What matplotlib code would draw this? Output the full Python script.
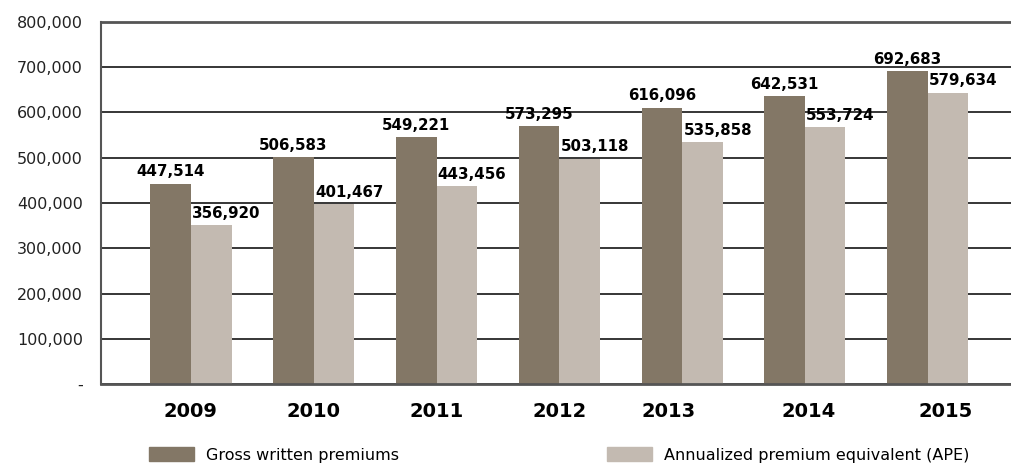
#!/usr/bin/env python3
"""Gross written premiums vs APE, 2009-2015 grouped bar chart."""
import numpy as np
import matplotlib
matplotlib.use('Agg')
import matplotlib.pyplot as plt
from matplotlib.patches import Patch
from matplotlib.transforms import ScaledTranslation

years = ['2009', '2010', '2011', '2012', '2013', '2014', '2015']
# bar heights as drawn in the picture
gross_bars = [443000, 502000, 545000, 570000, 611000, 637000, 692000]
ape_bars = [352000, 398000, 438000, 498000, 535000, 567000, 644000]
# printed value labels
gross_labels = ['447,514', '506,583', '549,221', '573,295', '616,096', '642,531', '692,683']
ape_labels = ['356,920', '401,467', '443,456', '503,118', '535,858', '553,724', '579,634']
yticks = [0, 100000, 200000, 300000, 400000, 500000, 600000, 700000, 800000]
ytick_labels = ['-', '100,000', '200,000', '300,000', '400,000', '500,000',
                '600,000', '700,000', '800,000']

GROSS_C = '#837766'
APE_C = '#c3bab1'

fig = plt.figure(figsize=(10.12, 4.68), dpi=100)
ax = fig.add_axes([101 / 1012, 84 / 468, 911 / 1012, 362 / 468])

x = np.arange(len(years))
w = 0.33
ax.bar(x - w / 2, gross_bars, w, color=GROSS_C, zorder=2)
ax.bar(x + w / 2, ape_bars, w, color=APE_C, zorder=2)

for xi, h, lab in zip(x, gross_bars, gross_labels):
    ax.annotate(lab, (xi - w / 2, h), xytext=(0, 3), textcoords='offset points',
                ha='center', va='bottom', fontsize=10.8, fontweight='bold')
for xi, h, lab in zip(x, ape_bars, ape_labels):
    ax.annotate(lab, (xi + w / 2, h), xytext=(11, 3), textcoords='offset points',
                ha='center', va='bottom', fontsize=10.8, fontweight='bold')

ax.set_xlim(-0.733, 6.686)
ax.set_ylim(0, 800000)
ax.set_yticks(yticks)
ax.set_yticklabels(ytick_labels, fontsize=11.5, color='#222222')
ax.set_xticks(x)
ax.set_xticklabels(years, fontsize=14, fontweight='bold')
ax.tick_params(axis='y', length=0, pad=13)
ax.tick_params(axis='x', length=0, pad=13)

# small horizontal nudges of the year labels, in pixels
nudge = [-1, 0, 0, 0, -14, 4, 18]
for lab, dx in zip(ax.get_xticklabels(), nudge):
    lab.set_transform(lab.get_transform() + ScaledTranslation(dx / 100, 0, fig.dpi_scale_trans))

ax.grid(axis='y', color='black', linewidth=1.1, zorder=1)
ax.set_axisbelow(True)
ax.spines['right'].set_visible(False)
for s in ['top', 'bottom', 'left']:
    ax.spines[s].set_color('#555555')
ax.spines['top'].set_linewidth(2)
ax.spines['bottom'].set_linewidth(2)
ax.spines['left'].set_linewidth(1.5)

leg_kw = dict(frameon=False, fontsize=11.5, handlelength=2.8, handleheight=0.95,
              handletextpad=0.75, borderpad=0, borderaxespad=0, loc='center left')
fig.legend(handles=[Patch(color=GROSS_C, label='Gross written premiums')],
           bbox_to_anchor=(149 / 1012, 1 - 455 / 468), **leg_kw)
fig.legend(handles=[Patch(color=APE_C, label='Annualized premium equivalent (APE)')],
           bbox_to_anchor=(607 / 1012, 1 - 455 / 468), **leg_kw)

fig.savefig('out.png', dpi=100)
